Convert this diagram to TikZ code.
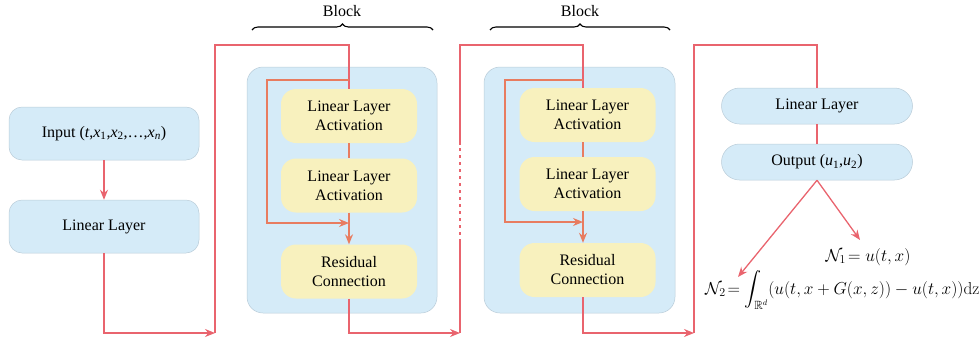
\documentclass[tikz,border=0pt]{standalone}
\usepackage{amsmath,amssymb}
\usepackage[no-math]{fontspec}
\setmainfont{Liberation Serif}
\usetikzlibrary{arrows.meta,decorations.pathreplacing}
\definecolor{lblue}{HTML}{D5EBF8}
\definecolor{bborder}{HTML}{B9CCD8}
\definecolor{lyel}{HTML}{F8F1BE}
\definecolor{ored}{HTML}{E9646E}
\definecolor{iora}{HTML}{E87C60}
\tikzset{
  bluebox/.style={draw=bborder,line width=0.5pt,fill=lblue,rounded corners=13pt,inner sep=0pt,
    font=\fontsize{16}{19}\selectfont,align=center},
  blockbg/.style={draw=bborder,line width=0.5pt,fill=lblue,rounded corners=16pt,inner sep=0pt},
  yelbox/.style={fill=lyel,rounded corners=15pt,inner sep=0pt,minimum width=136pt,minimum height=54pt,
    font=\fontsize{16}{19}\selectfont,align=center},
  pill/.style={bluebox,rounded corners=18pt,minimum width=191pt,minimum height=36pt},
  outer/.style={draw=ored,line width=1.3pt},
  inner/.style={draw=iora,line width=1.3pt},
  tip/.style={-{Stealth[length=10pt,width=8pt]}},
  bracestyle/.style={draw=black,line width=1.1pt,decorate,decoration={brace,amplitude=6pt}},
  lbl/.style={font=\fontsize{16}{19}\selectfont,inner sep=0pt},
  mathlbl/.style={font=\fontsize{17}{20}\selectfont,inner sep=0pt}
}
\begin{document}
\begin{tikzpicture}[x=1pt,y=-1pt]
\useasboundingbox (0,0) rectangle (979,341);
% left column
\node[bluebox,minimum width=190pt,minimum height=53pt] (in) at (104,133.5)
  {Input (\textit{t},\textit{x}\textsubscript{1},\textit{x}\textsubscript{2},\dots,\textit{x}\textsubscript{\textit{n}})};
\node[bluebox,minimum width=190pt,minimum height=53pt] (lin) at (104,226.5) {Linear Layer};
% block 1
\node[blockbg,minimum width=190pt,minimum height=246pt] (blk1) at (342,190) {};
\node[yelbox] (y11) at (349,116) {Linear Layer\\Activation};
\node[yelbox] (y12) at (349,185.5) {Linear Layer\\Activation};
\node[yelbox] (y13) at (349,271.5) {Residual\\Connection};
% block 2
\node[blockbg,minimum width=191pt,minimum height=246pt] (blk2) at (579.5,190) {};
\node[yelbox] (y21) at (587.5,115) {Linear Layer\\Activation};
\node[yelbox] (y22) at (587.5,184) {Linear Layer\\Activation};
\node[yelbox] (y23) at (587.5,270) {Residual\\Connection};
% output column
\node[pill] (ol) at (817,106) {Linear Layer};
\node[pill] (out) at (817,162) {Output (\textit{u}\textsubscript{1},\textit{u}\textsubscript{2})};
\node[mathlbl] (n1) at (868,257) {$\mathcal{N}_1\!=u(t,x)$};
\node[mathlbl,anchor=west] (n2) at (705,290)
  {$\mathcal{N}_2\!=\displaystyle\int_{\mathbb{R}^d}(u(t,x+G(x,z))-u(t,x))\mathrm{dz}$};
% braces
\node[lbl] (b1) at (342,11) {Block};
\node[lbl] (b2) at (580,11) {Block};
\coordinate (br1a) at (252,30); \coordinate (br1b) at (433,30);
\coordinate (br2a) at (490,30); \coordinate (br2b) at (670,30);
\draw[bracestyle] (br1a) -- (br1b);
\draw[bracestyle] (br2a) -- (br2b);
% coordinates
\coordinate (c1) at (215,333);
\coordinate (c2) at (349,45);
\coordinate (c3) at (460,333);
\coordinate (c3a) at (460,242);
\coordinate (c3b) at (460,145);
\coordinate (c4) at (583,45);
\coordinate (c5) at (694,333);
\coordinate (c6) at (817,45);
\coordinate (n2t) at (738,277);
\coordinate (n1t) at (860,240);
% outer connectors
\draw[outer,tip] (in.south) -- (lin.north);
\draw[outer,tip] (lin.south) |- (c1);
\draw[outer] (c1) |- (c2) -- (y11.north);
\draw[outer,tip] (y13.south) |- (c3);
\draw[outer] (c3) -- (c3a);
\draw[outer,dash pattern=on 3pt off 4pt] (c3a) -- (c3b);
\draw[outer] (c3b) |- (c4) -- (c4 |- y21.north);
\draw[outer,tip] (c4 |- y23.south) |- (c5);
\draw[outer] (c5) |- (c6) -- (ol.north);
\draw[outer] (ol.south) -- (out.north);
\draw[outer,tip] (out.south) -- (n2t);
\draw[outer,tip] (out.south) -- (n1t);
% inner connectors block 1
\coordinate (k1) at (349,80);
\coordinate (k1l) at (267,80);
\coordinate (k1r) at (349,223);
\draw[inner,tip] (k1) -- (k1l) |- (k1r);
\draw[inner] (y11.south) -- (y12.north);
\draw[inner,tip] (y12.south) -- (y13.north);
% inner connectors block 2
\coordinate (k2) at (583,80);
\coordinate (k2l) at (505,80);
\coordinate (k2r) at (583,222);
\draw[inner,tip] (k2) -- (k2l) |- (k2r);
\draw[inner] (c4 |- y21.south) -- (c4 |- y22.north);
\draw[inner,tip] (c4 |- y22.south) -- (c4 |- y23.north);
\end{tikzpicture}
\end{document}
